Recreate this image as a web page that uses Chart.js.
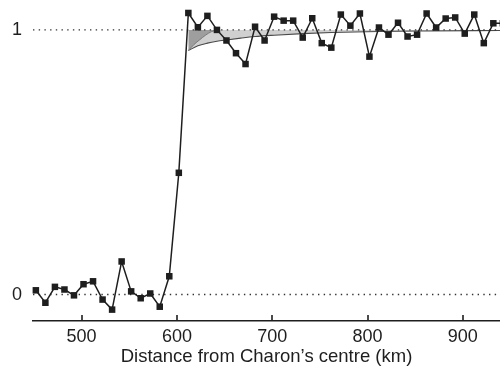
<!DOCTYPE html>
<html>
<head>
<meta charset="utf-8">
<script src="https://cdn.jsdelivr.net/npm/chart.js@4/dist/chart.umd.min.js"></script>
<style>
html,body{margin:0;padding:0;background:#fff;}
#c{display:block;}
</style>
</head>
<body>
<canvas id="c" width="500" height="368"></canvas>
<script>
// ---- data ----
const distanceKm = [452,462,472,482,492,502,512,522,532,542,552,562,572,582,592,602,612,622,632,642,652,662,672,682,692,702,712,722,732,742,752,762,772,782,792,802,812,822,832,842,852,862,872,882,892,902,912,922,932,942];
const transmission = [0.016,-0.031,0.029,0.019,-0.003,0.039,0.050,-0.019,-0.057,0.125,0.012,-0.014,0.004,-0.046,0.069,0.460,1.064,1.010,1.053,1.000,0.960,0.912,0.871,1.012,0.960,1.050,1.035,1.035,0.971,1.044,0.950,0.933,1.058,1.016,1.062,0.899,1.009,0.982,1.027,0.975,0.982,1.062,1.009,1.043,1.047,0.986,1.058,0.950,1.025,1.025];

// slow model curve (light grey band)
const slowKm  = [612,622,632,642,652,667,682,702,732,762,812,862,939];
const slowVal = [0.922,0.940,0.950,0.957,0.962,0.969,0.975,0.980,0.986,0.990,0.994,0.996,0.998];
// fast model curve (dark grey wedge)
const fastKm  = [612,618,624,630,636,642];
const fastVal = [0.922,0.945,0.963,0.980,0.993,1.000];

const xTicks = [500,600,700,800,900];
const yTicks = [0,1];
const xRange = [449,939];
const yRange = [-0.1,1.113];
const xTitle = 'Distance from Charon\u2019s centre (km)';

const pts = (xs, ys) => xs.map((x,i)=>({x:x, y:ys[i]}));
const refLine = (v) => [{x:xRange[0], y:v},{x:xRange[1], y:v}];

const FONT = "'Liberation Sans', Arial, Helvetica, sans-serif";
const INK = '#1e1e1e';

const innerTicks = {
  id:'innerTicks',
  afterDatasetsDraw(chart){
    const xs = chart.scales.x, ctx = chart.ctx;
    const y0 = chart.chartArea.bottom;
    ctx.save();
    ctx.strokeStyle = INK; ctx.lineWidth = 1.6;
    xTicks.forEach(v=>{
      const px = Math.round(xs.getPixelForValue(v));
      ctx.beginPath(); ctx.moveTo(px, y0); ctx.lineTo(px, y0-6); ctx.stroke();
    });
    ctx.restore();
  }
};

new Chart(document.getElementById('c'), {
  type:'line',
  data:{
    datasets:[
      { // main data
        data: pts(distanceKm, transmission),
        borderColor: INK, borderWidth: 1.5,
        pointStyle:'rect', pointRadius:4.6, pointBackgroundColor: INK,
        pointBorderWidth:0, tension:0, fill:false, order:0, clip:false
      },
      { // dotted reference at 1
        data: refLine(1), borderColor:'#333', borderWidth:1.4,
        borderDash:[1.4,4.3], pointRadius:0, fill:false, order:1
      },
      { // dotted reference at 0
        data: refLine(0), borderColor:'#333', borderWidth:1.4,
        borderDash:[1.4,4.3], pointRadius:0, fill:false, order:1
      },
      { // fast model
        data: pts(fastKm, fastVal), borderColor:'#7a7a7a', borderWidth:1,
        backgroundColor:'#9e9e9e', fill:{value:1}, pointRadius:0,
        cubicInterpolationMode:'monotone', order:2
      },
      { // slow model
        data: pts(slowKm, slowVal), borderColor:'#4a4a4a', borderWidth:1.1,
        backgroundColor:'#d0d0d0', fill:{value:1}, pointRadius:0,
        cubicInterpolationMode:'monotone', order:3
      }
    ]
  },
  options:{
    responsive:false, animation:false, devicePixelRatio:1,
    layout:{padding:0, autoPadding:false},
    plugins:{legend:{display:false}, tooltip:{enabled:false}},
    scales:{
      x:{
        type:'linear', min:xRange[0], max:xRange[1],
        afterBuildTicks(s){ s.ticks = xTicks.map(v=>({value:v})); },
        afterFit(s){ s.height = 47; s.paddingLeft = 0; s.paddingRight = 0; },
        grid:{display:false, drawTicks:false},
        border:{display:true, color:INK, width:1.6},
        ticks:{color:INK, font:{family:FONT, size:18}, padding:5, maxRotation:0},
        title:{display:true, text:xTitle, color:INK, font:{family:FONT, size:18.5}, padding:{top:0,bottom:0}}
      },
      y:{
        type:'linear', min:yRange[0], max:yRange[1],
        afterBuildTicks(s){ s.ticks = yTicks.map(v=>({value:v})); },
        afterFit(s){ s.width = 33; s.paddingTop = 0; s.paddingBottom = 0; },
        grid:{display:false, drawTicks:false},
        border:{display:false},
        ticks:{color:INK, font:{family:FONT, size:18}, padding:11}
      }
    }
  },
  plugins:[innerTicks]
});
</script>
</body>
</html>
